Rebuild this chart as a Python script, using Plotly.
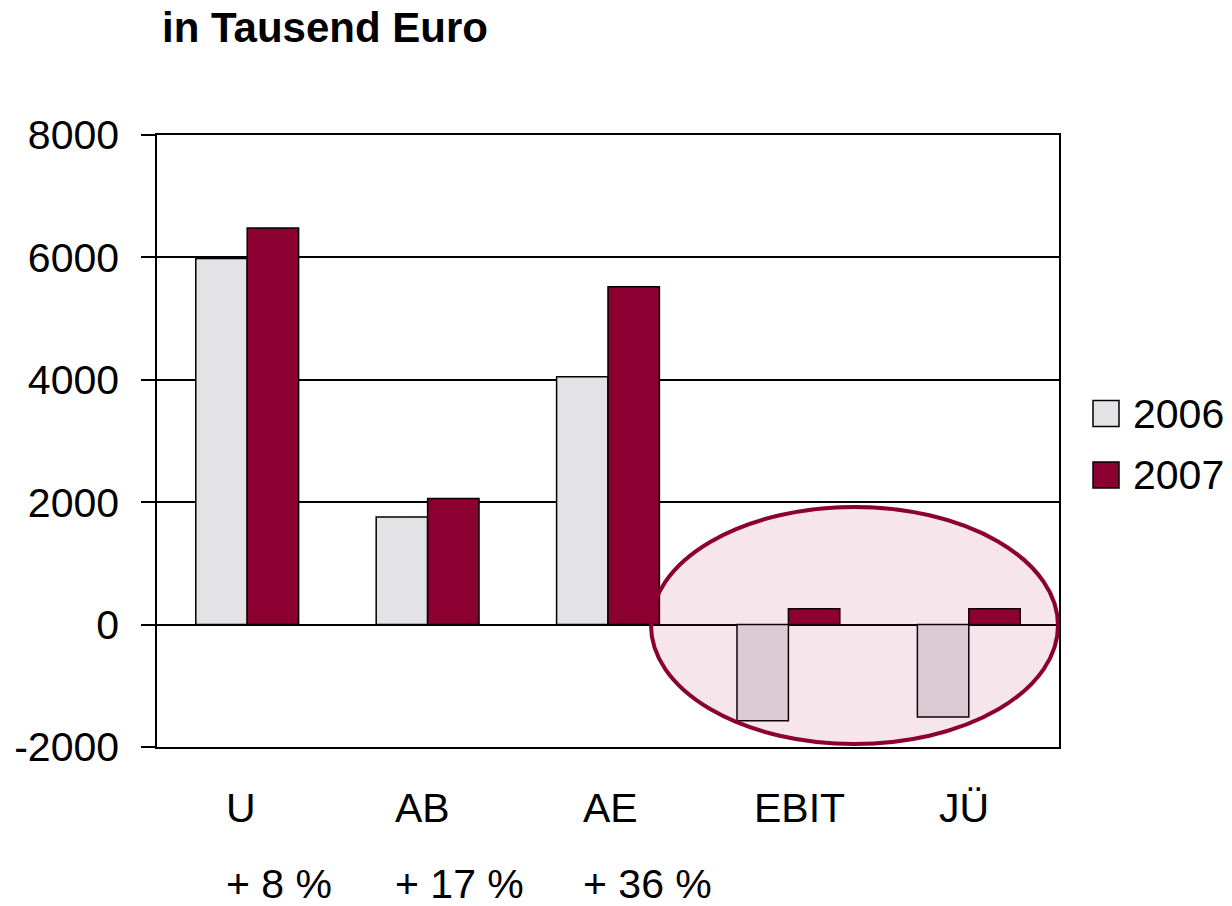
import plotly.graph_objects as go

categories = ["U", "AB", "AE", "EBIT", "JÜ"]
growth_labels = ["+ 8 %", "+ 17 %", "+ 36 %", "", ""]
years = ["2006", "2007"]
values_2006 = [5980, 1760, 4050, -1570, -1510]
values_2007 = [6480, 2060, 5520, 260, 260]
y_ticks = [-2000, 0, 2000, 4000, 6000, 8000]
y_tick_text = ["-2000", "0", "2000", "4000", "6000", "8000"]

W, H = 1232, 906
L, R, T, B = 157, 1059, 135, 747     # plot area in page pixels
FONT = "Liberation Sans, Arial, sans-serif"
FS = 41
C2006 = "#E3E3E5"
C2007 = "#8B0030"

def px_x(p):
    return (p - L) / (R - L)

def px_y(p):
    return (B - p) / (B - T)

fig = go.Figure()
fig.add_trace(go.Bar(x=categories, y=values_2006, name=years[0],
                     marker=dict(color=C2006, line=dict(color="black", width=1.5)),
                     showlegend=False))
fig.add_trace(go.Bar(x=categories, y=values_2007, name=years[1],
                     marker=dict(color=C2007, line=dict(color="black", width=1.5)),
                     showlegend=False))

shapes = []
shapes.append(dict(type="circle", xref="paper", yref="paper", layer="above",
                   x0=px_x(651), x1=px_x(1058), y0=px_y(744), y1=px_y(507),
                   fillcolor="rgba(170,0,60,0.10)",
                   line=dict(color=C2007, width=4)))
for yc, col in [(413.5, C2006), (475, C2007)]:
    shapes.append(dict(type="rect", xref="paper", yref="paper",
                       x0=px_x(1093), x1=px_x(1119), y0=px_y(yc + 13), y1=px_y(yc - 13),
                       fillcolor=col, line=dict(color="black", width=1.5)))

annotations = []
annotations.append(dict(text="<b>in Tausend Euro</b>", xref="paper", yref="paper",
                        x=px_x(160), y=px_y(28), xanchor="left", yanchor="middle",
                        showarrow=False, font=dict(family=FONT, size=42, color="black")))
for name, yc in zip(years, [413.5, 475]):
    annotations.append(dict(text=name, xref="paper", yref="paper",
                            x=px_x(1131), y=px_y(yc), xanchor="left", yanchor="middle",
                            showarrow=False, font=dict(family=FONT, size=FS, color="black")))
label_left = [224, 393, 581, 752, 937]
for cat, g, lx in zip(categories, growth_labels, label_left):
    annotations.append(dict(text=cat, xref="paper", yref="paper",
                            x=px_x(lx), y=px_y(808), xanchor="left", yanchor="middle",
                            showarrow=False, font=dict(family=FONT, size=FS, color="black")))
    if g:
        annotations.append(dict(text=g, xref="paper", yref="paper",
                                x=px_x(lx), y=px_y(884), xanchor="left", yanchor="middle",
                                showarrow=False, font=dict(family=FONT, size=FS, color="black")))

fig.update_layout(
    width=W, height=H,
    margin=dict(l=L, r=W - R, t=T, b=H - B, pad=0, autoexpand=False),
    paper_bgcolor="white", plot_bgcolor="white",
    barmode="group", bargap=0.43, bargroupgap=0,
    showlegend=False,
    shapes=shapes, annotations=annotations,
    xaxis=dict(range=[-0.5, 4.5], showticklabels=False, ticks="",
               showline=True, mirror=True, linecolor="black", linewidth=1.5,
               showgrid=False, zeroline=False),
    yaxis=dict(range=[-2000, 8000], tickvals=y_ticks, ticktext=y_tick_text,
               ticks="outside", ticklen=14, tickwidth=1.5, tickcolor="black",
               ticklabelstandoff=14,
               showline=True, mirror=True, linecolor="black", linewidth=1.5,
               showgrid=True, gridcolor="black", gridwidth=1.5,
               zeroline=True, zerolinecolor="black", zerolinewidth=1.5,
               tickfont=dict(family=FONT, size=FS, color="black")),
)

fig.write_html("out.html", config={"displayModeBar": False},
               post_script="document.body.style.margin='0';document.body.style.overflow='hidden';")
